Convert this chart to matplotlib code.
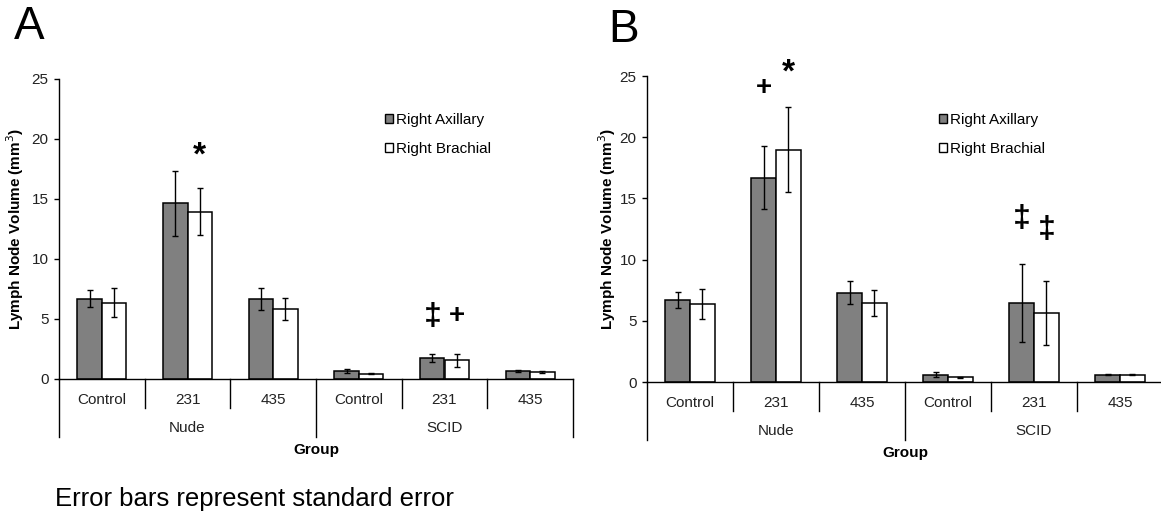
import matplotlib
matplotlib.use("Agg")
import matplotlib.pyplot as plt
from matplotlib.patches import Patch

plt.rcParams['font.family'] = ['Liberation Sans', 'DejaVu Sans']

# ---------------- data ----------------
categories = ["Control", "231", "435", "Control", "231", "435"]
groups = ["Nude", "SCID"]
series_names = ["Right Axillary", "Right Brachial"]
yticks = [0, 5, 10, 15, 20, 25]

# Panel A
a_axillary = [6.7, 14.65, 6.68, 0.66, 1.74, 0.66]
a_axillary_err = [0.7, 2.7, 0.92, 0.15, 0.33, 0.05]
a_brachial = [6.37, 13.93, 5.82, 0.44, 1.57, 0.58]
a_brachial_err = [1.18, 1.97, 0.9, 0.05, 0.55, 0.06]
# annotations: (category index, series index, y, symbol)
a_marks = [(1, 1, 18.6, "*"), (4, 0, 5.2, "‡"), (4, 1, 5.25, "+")]

# Panel B
b_axillary = [6.71, 16.68, 7.29, 0.60, 6.44, 0.60]
b_axillary_err = [0.67, 2.58, 0.93, 0.22, 3.19, 0.04]
b_brachial = [6.36, 18.97, 6.44, 0.38, 5.65, 0.60]
b_brachial_err = [1.2, 3.47, 1.06, 0.04, 2.6, 0.04]
b_marks = [(1, 0, 24.0, "+"), (1, 1, 25.2, "*"), (4, 0, 13.35, "‡"), (4, 1, 12.4, "‡")]

ylabel = "Lymph Node Volume (mm$^3$)"
xlabel = "Group"
footnote = "Error bars represent standard error"

GRAY = "#808080"
W, H = 1161, 514
fig = plt.figure(figsize=(W / 100, H / 100), dpi=100)

BAR_W = 0.285
PX = 0.72  # points per pixel at 100 dpi


def draw_panel(rect_px, axil, axil_err, brach, brach_err, marks, legend_xy, ylabel_x, letter, letter_xy):
    left, top, right, bottom = rect_px
    rect = [left / W, 1 - bottom / H, (right - left) / W, (bottom - top) / H]
    ax = fig.add_axes(rect)
    h_px = bottom - top
    n = len(categories)
    xs = list(range(n))
    x1 = [x - BAR_W / 2 for x in xs]
    x2 = [x + BAR_W / 2 for x in xs]
    ax.bar(x1, axil, BAR_W, color=GRAY, edgecolor="black", linewidth=1.1, zorder=2)
    ax.bar(x2, brach, BAR_W, color="white", edgecolor="black", linewidth=1.1, zorder=2)
    ekw = dict(fmt="none", ecolor="black", elinewidth=1.0, capsize=2, capthick=1.0, zorder=3)
    ax.errorbar(x1, axil, yerr=axil_err, **ekw)
    ax.errorbar(x2, brach, yerr=brach_err, **ekw)

    ax.set_xlim(-0.5, n - 0.5)
    ax.set_ylim(0, 25)
    ax.set_yticks(yticks)
    ax.set_xticks([])
    for s in ["top", "right"]:
        ax.spines[s].set_visible(False)
    ax.spines["left"].set_linewidth(1.0)
    ax.spines["bottom"].set_linewidth(1.0)
    ax.tick_params(axis="y", direction="out", length=3.5, width=1.0, labelsize=11,
                   labelcolor="#222222", pad=4)

    # category separators and group separators below the axis
    trans = ax.get_xaxis_transform()
    short = -29 / h_px
    long_ = -58 / h_px
    for b in [i + 0.5 for i in range(n - 1)]:
        is_group = (b == 2.5)
        ax.plot([b, b], [0, long_ if is_group else short], color="black", lw=1.0,
                transform=trans, clip_on=False)
    for b in [-0.5, n - 0.5]:
        ax.plot([b, b], [0, long_], color="black", lw=1.0, transform=trans, clip_on=False)

    for i, c in enumerate(categories):
        ax.annotate(c, xy=(i, 0), xycoords=trans, xytext=(0, -21 * PX),
                    textcoords="offset points", ha="center", va="center", fontsize=11,
                    color="#222222")
    for g, gx in zip(groups, [1, 4]):
        ax.annotate(g, xy=(gx, 0), xycoords=trans, xytext=(0, -49 * PX),
                    textcoords="offset points", ha="center", va="center", fontsize=11,
                    color="#222222")
    ax.annotate(xlabel, xy=((n - 1) / 2, 0), xycoords=trans, xytext=(0, -71 * PX),
                textcoords="offset points", ha="center", va="center", fontsize=11,
                fontweight="bold")

    ax.set_ylabel(ylabel, fontsize=11, fontweight="bold")
    ax.yaxis.set_label_coords((ylabel_x - left) / (right - left), 0.5)

    for ci, si, y, sym in marks:
        x = x1[ci] if si == 0 else x2[ci]
        fs = {"*": 24, "‡": 23, "+": 20}[sym]
        ax.text(x, y, sym, ha="center", va="center", fontsize=fs, fontweight="bold",
                clip_on=False)

    handles = [Patch(facecolor=GRAY, edgecolor="black", linewidth=1.0),
               Patch(facecolor="white", edgecolor="black", linewidth=1.0)]
    lx = (legend_xy[0] - left) / (right - left)
    ly = (bottom - legend_xy[1]) / h_px
    ax.legend(handles, series_names, loc="upper left", bbox_to_anchor=(lx, ly),
              frameon=False, fontsize=11, handlelength=0.55, handleheight=0.55,
              handletextpad=0.15, labelspacing=1.0, borderpad=0, borderaxespad=0)

    fig.text(letter_xy[0] / W, 1 - letter_xy[1] / H, letter, fontsize=33,
             ha="left", va="center")
    return ax


draw_panel((59, 79, 573, 379), a_axillary, a_axillary_err, a_brachial, a_brachial_err,
           a_marks, (385, 113), 26, "A", (14, 27))
draw_panel((647, 76, 1163, 382), b_axillary, b_axillary_err, b_brachial, b_brachial_err,
           b_marks, (939, 113), 618, "B", (608, 30))

fig.text(55 / W, 1 - 499 / H, footnote, fontsize=18.5, ha="left", va="center")

fig.savefig("out.png", dpi=100)
